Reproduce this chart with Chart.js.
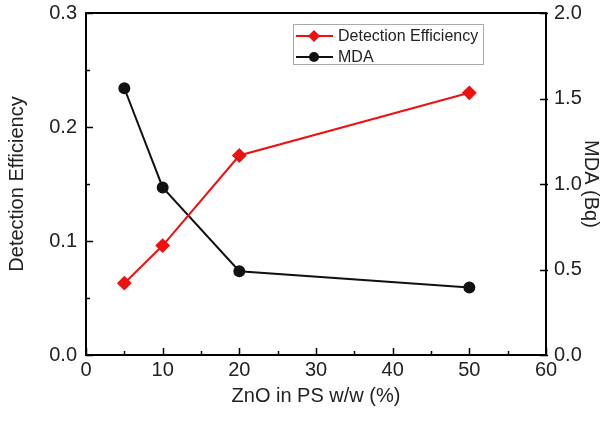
<!DOCTYPE html>
<html>
<head>
<meta charset="utf-8">
<script src="https://cdn.jsdelivr.net/npm/chart.js@4.4.1/dist/chart.umd.min.js"></script>
<style>
  html, body { margin: 0; padding: 0; background: #fff; }
  #wrap { width: 600px; height: 421px; }
</style>
</head>
<body>
<div id="wrap"><canvas id="chart" width="600" height="421"></canvas></div>
<script>
// values
const znoPercent = [5, 10, 20, 50];
const detectionEfficiency = [0.063, 0.096, 0.175, 0.230];
const mdaBq = [1.56, 0.98, 0.49, 0.395];
const seriesNames = ['Detection Efficiency', 'MDA'];

const FONT = "'Liberation Sans', Arial, sans-serif";
const TXT = '#222';

// frame box + inward ticks, Origin style
const framePlugin = {
  id: 'frame',
  afterDraw(chart) {
    const {ctx, chartArea: a, scales} = chart;
    ctx.save();
    ctx.strokeStyle = '#000';
    ctx.lineWidth = 2;
    ctx.strokeRect(a.left, a.top, a.right - a.left, a.bottom - a.top);
    ctx.lineWidth = 1.5;
    ctx.beginPath();
    const x = scales.x;
    for (let v = 0; v <= 60; v += 5) {
      const px = Math.round(x.getPixelForValue(v)) + 0.5;
      const len = v % 10 === 0 ? 7 : 4;
      ctx.moveTo(px, a.bottom);
      ctx.lineTo(px, a.bottom - len);
    }
    const yl = scales.y;
    for (let i = 0; i <= 6; i++) {
      const py = Math.round(yl.getPixelForValue(i * 0.05)) + 0.5;
      const len = i % 2 === 0 ? 7 : 4;
      ctx.moveTo(a.left, py);
      ctx.lineTo(a.left + len, py);
    }
    const yr = scales.y1;
    for (let v = 0; v <= 2; v += 0.5) {
      const py = Math.round(yr.getPixelForValue(v)) + 0.5;
      ctx.moveTo(a.right + 2, py);
      ctx.lineTo(a.right - 6, py);
    }
    ctx.stroke();
    ctx.restore();
  }
};

// legend box drawn inside the plot like the original
const legendPlugin = {
  id: 'boxLegend',
  afterDraw(chart) {
    const {ctx} = chart;
    const bx = 293, by = 24, bw = 190, bh = 40;
    ctx.save();
    ctx.strokeStyle = '#aaa';
    ctx.lineWidth = 1;
    ctx.strokeRect(bx + 0.5, by + 0.5, bw, bh);
    ctx.font = '16px ' + FONT;
    ctx.textBaseline = 'middle';
    chart.data.datasets.forEach((ds, i) => {
      const y = by + 12 + i * 21;
      ctx.strokeStyle = ds.borderColor;
      ctx.lineWidth = 2;
      ctx.beginPath();
      ctx.moveTo(bx + 3, y);
      ctx.lineTo(bx + 40, y);
      ctx.stroke();
      ctx.fillStyle = ds.pointBackgroundColor;
      ctx.beginPath();
      if (ds.pointStyle === 'rectRot') {
        const r = 6;
        ctx.moveTo(bx + 21 - r, y);
        ctx.lineTo(bx + 21, y - r);
        ctx.lineTo(bx + 21 + r, y);
        ctx.lineTo(bx + 21, y + r);
        ctx.closePath();
      } else {
        ctx.arc(bx + 21, y, 5, 0, Math.PI * 2);
      }
      ctx.fill();
      ctx.fillStyle = TXT;
      ctx.fillText(ds.label, bx + 45, y + 1);
    });
    ctx.restore();
  }
};

// keep plot edges fixed, ignore the label overhang padding
function fixY(width) {
  return function (s) {
    s.width = width;
    s.paddingTop = 0;
    s.paddingBottom = 0;
  };
}

const ctx = document.getElementById('chart');
new Chart(ctx, {
  type: 'line',
  data: {
    datasets: [
      {
        label: seriesNames[0],
        data: znoPercent.map((x, i) => ({x: x, y: detectionEfficiency[i]})),
        yAxisID: 'y',
        borderColor: '#ee1111',
        backgroundColor: '#ee1111',
        pointBackgroundColor: '#ee1111',
        pointBorderColor: '#ee1111',
        pointStyle: 'rectRot',
        pointRadius: 6,
        borderWidth: 2,
        tension: 0
      },
      {
        label: seriesNames[1],
        data: znoPercent.map((x, i) => ({x: x, y: mdaBq[i]})),
        yAxisID: 'y1',
        borderColor: '#111',
        backgroundColor: '#111',
        pointBackgroundColor: '#111',
        pointBorderColor: '#111',
        pointStyle: 'circle',
        pointRadius: 5,
        borderWidth: 2,
        tension: 0
      }
    ]
  },
  options: {
    responsive: false,
    animation: false,
    layout: { padding: { top: 13, left: 0, right: 0, bottom: 0 } },
    plugins: {
      legend: { display: false },
      tooltip: { enabled: false }
    },
    scales: {
      x: {
        type: 'linear',
        min: 0, max: 60,
        grid: { display: false, drawTicks: false },
        border: { display: false },
        ticks: { stepSize: 10, padding: 3, color: TXT, font: { family: FONT, size: 20 }, maxRotation: 0 },
        title: { display: true, text: 'ZnO in PS w/w (%)', color: TXT, font: { family: FONT, size: 20, lineHeight: 1 }, padding: { top: 0, bottom: 15 } },
        afterFit(s) { s.height = 66; s.paddingLeft = 0; s.paddingRight = 0; }
      },
      y: {
        position: 'left',
        min: 0, max: 0.3,
        grid: { display: false, drawTicks: false },
        border: { display: false },
        ticks: { stepSize: 0.1, padding: 9, color: TXT, font: { family: FONT, size: 20 }, callback: v => v.toFixed(1) },
        title: { display: true, text: 'Detection Efficiency', color: TXT, font: { family: FONT, size: 20, lineHeight: 1 }, padding: { top: 7, bottom: 0 } },
        afterFit: fixY(86)
      },
      y1: {
        position: 'right',
        min: 0, max: 2,
        grid: { display: false, drawTicks: false },
        border: { display: false },
        ticks: { stepSize: 0.5, padding: 8, color: TXT, font: { family: FONT, size: 20 }, callback: v => v.toFixed(1) },
        title: { display: true, text: 'MDA (Bq)', color: TXT, font: { family: FONT, size: 20, lineHeight: 0.9 }, padding: { top: 0, bottom: 0 } },
        afterFit: fixY(54)
      }
    }
  },
  plugins: [framePlugin, legendPlugin]
});
</script>
</body>
</html>
